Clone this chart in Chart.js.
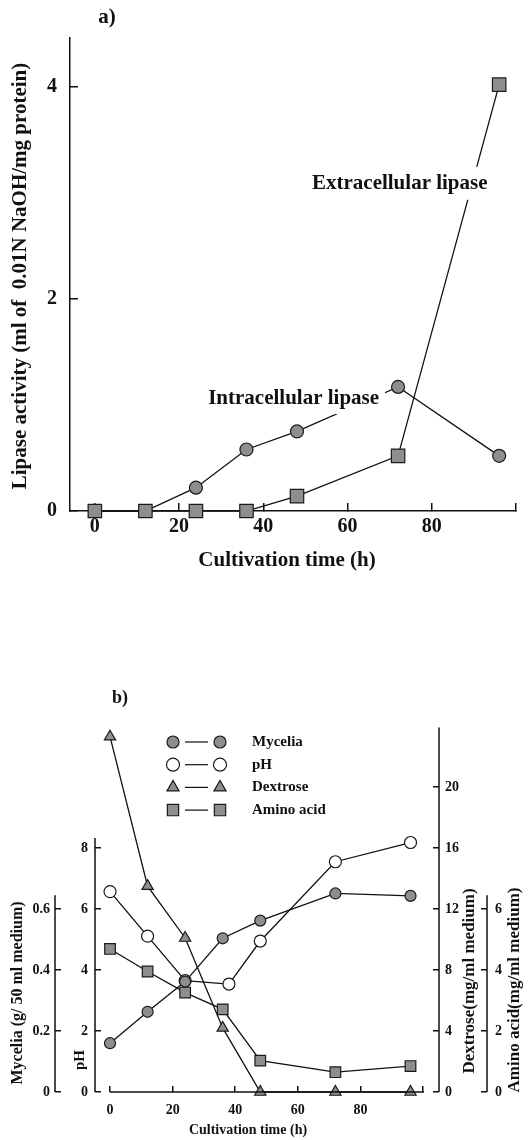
<!DOCTYPE html>
<html>
<head>
<meta charset="utf-8">
<script src="https://cdn.jsdelivr.net/npm/chart.js@4.4.1/dist/chart.umd.min.js"></script>
<style>
  html, body { margin: 0; padding: 0; background: #fff; }
  #wrap { position: relative; width: 528px; height: 1140px; }
  canvas { position: absolute; left: 0; }
  #chartA { top: 0; }
  #chartB { top: 580px; }
</style>
</head>
<body>
<div id="wrap">
  <canvas id="chartA" width="528" height="580"></canvas>
  <canvas id="chartB" width="528" height="560"></canvas>
</div>
<script>
// a) lipase activity vs time
const hoursA = [0, 12, 24, 36, 48, 72, 96];
const intracellular = [0, 0, 0.22, 0.58, 0.75, 1.17, 0.52];
const extracellular = [0, 0, 0, 0, 0.14, 0.52, 4.02];
const lipaseTicks = [0, 2, 4];
const timeTicks = [0, 20, 40, 60, 80, 100];

// b) culture course
const hoursB = [0, 12, 24, 36, 48, 72, 96];
const hoursPH = [0, 12, 24, 38, 48, 72, 96];
const mycelia = [0.16, 0.263, 0.362, 0.504, 0.562, 0.651, 0.643];
const pH = [6.57, 5.11, 3.65, 3.54, 4.95, 7.55, 8.18];
const dextrose = [23.3, 13.5, 10.1, 4.2, 0, 0, 0];
const aminoAcid = [4.69, 3.95, 3.26, 2.71, 1.03, 0.65, 0.85];
const myceliaTicks = [0, 0.2, 0.4, 0.6];
const pHTicks = [0, 2, 4, 6, 8];
const dextroseTicks = [0, 4, 8, 12, 16, 20];
const aminoTicks = [0, 2, 4, 6];

const INK = '#111';
const GREY = '#8e8e8e';
const serif = 'bold {s}px "Liberation Serif", "DejaVu Serif", serif';
const font = s => serif.replace('{s}', s);

function pts(xs, ys) { return xs.map((x, i) => ({ x: x, y: ys[i] })); }
function fixTicks(list) { return s => { s.ticks = list.map(v => ({ value: v })); }; }

function vText(ctx, text, x, y, size) {
  ctx.save();
  ctx.translate(x, y);
  ctx.rotate(-Math.PI / 2);
  ctx.font = font(size);
  ctx.fillStyle = INK;
  ctx.textAlign = 'center';
  ctx.textBaseline = 'middle';
  ctx.fillText(text, 0, 0);
  ctx.restore();
}
function hText(ctx, text, x, y, size, align) {
  ctx.font = font(size);
  ctx.fillStyle = INK;
  ctx.textAlign = align || 'center';
  ctx.textBaseline = 'middle';
  ctx.fillText(text, x, y);
}
// label sitting on a line, with a white box that breaks the line
function boxedText(ctx, text, x, y, size, padX, padY) {
  ctx.font = font(size);
  const w = ctx.measureText(text).width;
  ctx.fillStyle = '#fff';
  ctx.fillRect(x - w / 2 - padX, y - size / 2 - padY, w + 2 * padX, size + 2 * padY);
  hText(ctx, text, x, y, size);
}

const lineSet = (data, style, radius, fill, axis) => ({
  data: data,
  yAxisID: axis,
  borderColor: INK,
  borderWidth: 1.3,
  pointStyle: style,
  pointRadius: radius,
  pointHoverRadius: radius,
  pointBackgroundColor: fill,
  pointBorderColor: '#1a1a1a',
  pointBorderWidth: 1.2,
  tension: 0,
  clip: false
});

// ---------- chart a ----------
const labelsA = {
  id: 'labelsA',
  afterDatasetsDraw(chart) {
    const ctx = chart.ctx, x = chart.scales.x, y = chart.scales.y;
    boxedText(ctx, 'Extracellular lipase', x.getPixelForValue(72.4), y.getPixelForValue(3.09), 21, 3, 6);
    boxedText(ctx, 'Intracellular lipase', x.getPixelForValue(47.2), y.getPixelForValue(1.06), 21, 6, 5);
  },
  afterDraw(chart) {
    const ctx = chart.ctx;
    vText(ctx, 'Lipase activity (ml of  0.01N NaOH/mg protein)', 21, 276, 21);
    hText(ctx, 'Cultivation time (h)', 287, 561, 21);
    hText(ctx, 'a)', 107, 18, 21);
  }
};

const tickFontA = { family: 'Liberation Serif', weight: 'bold', size: 20 };

new Chart(document.getElementById('chartA'), {
  type: 'line',
  data: {
    datasets: [
      lineSet(pts(hoursA, extracellular), 'rect', 9.5, GREY, 'y'),
      lineSet(pts(hoursA, intracellular), 'circle', 6.5, GREY, 'y')
    ]
  },
  options: {
    responsive: false,
    animation: false,
    devicePixelRatio: 1,
    layout: { padding: { top: 38, right: 10, left: 0, bottom: 0 } },
    plugins: { legend: { display: false }, tooltip: { enabled: false } },
    scales: {
      x: {
        type: 'linear', min: -5.9, max: 100,
        afterBuildTicks: fixTicks(timeTicks),
        afterFit: s => { s.height = 69; },
        border: { color: INK, width: 1.5 },
        grid: { drawOnChartArea: false, tickLength: -8, color: INK, lineWidth: 1.5 },
        ticks: { color: INK, font: tickFontA, padding: 12,
                 maxRotation: 0, callback: v => v === 100 ? '' : String(v) }
      },
      y: {
        min: 0, max: 4.46,
        afterBuildTicks: fixTicks(lipaseTicks),
        afterFit: s => { s.width = 70; },
        border: { color: INK, width: 1.5 },
        grid: { drawOnChartArea: false, tickLength: -8, color: INK, lineWidth: 1.5 },
        ticks: { color: INK, font: tickFontA, padding: 21 }
      }
    }
  },
  plugins: [labelsA]
});

// ---------- chart b ----------
const legendRows = [
  { text: 'Mycelia', style: 'circle', r: 6, fill: GREY },
  { text: 'pH', style: 'circle', r: 6.5, fill: '#fff' },
  { text: 'Dextrose', style: 'triangle', r: 7, fill: GREY },
  { text: 'Amino acid', style: 'rect', r: 8, fill: GREY }
];

const decorB = {
  id: 'decorB',
  afterDraw(chart) {
    const ctx = chart.ctx, s = chart.scales;
    const xs = s.x, yM = s.yMyc, yP = s.yPH, yD = s.yDex, yA = s.yAmino;
    ctx.save();
    ctx.strokeStyle = INK;
    ctx.lineWidth = 1.5;
    ctx.beginPath();
    // x axis 0..100 h
    ctx.moveTo(xs.getPixelForValue(0), chart.chartArea.bottom);
    ctx.lineTo(xs.getPixelForValue(100) + 1, chart.chartArea.bottom);
    // partial y axis lines
    ctx.moveTo(yM.right, yM.getPixelForValue(0));
    ctx.lineTo(yM.right, yM.getPixelForValue(0.645));
    ctx.moveTo(yP.right, yP.getPixelForValue(0));
    ctx.lineTo(yP.right, yP.getPixelForValue(8.33));
    ctx.moveTo(yD.left, yD.getPixelForValue(0));
    ctx.lineTo(yD.left, yD.getPixelForValue(23.9));
    ctx.moveTo(yA.left, yA.getPixelForValue(0));
    ctx.lineTo(yA.left, yA.getPixelForValue(6.45));
    ctx.stroke();

    // legend
    legendRows.forEach((row, i) => {
      const y = 162 + i * 22.7;
      ctx.strokeStyle = INK;
      ctx.lineWidth = 1.2;
      ctx.beginPath();
      ctx.moveTo(185, y); ctx.lineTo(208, y);
      ctx.stroke();
      [173, 220].forEach(px => {
        ctx.fillStyle = row.fill;
        ctx.strokeStyle = '#1a1a1a';
        ctx.lineWidth = 1.2;
        Chart.helpers.drawPoint(ctx, { pointStyle: row.style, radius: row.r, rotation: 0, borderWidth: 1.2 }, px, y);
      });
      hText(ctx, row.text, 252, y, 15, 'left');
    });
    ctx.restore();

    vText(ctx, 'Mycelia (g/ 50 ml medium)', 18, 413, 16);
    vText(ctx, 'pH', 80, 480, 15);
    vText(ctx, 'Dextrose(mg/ml medium)', 470, 401, 17);
    vText(ctx, 'Amino acid(mg/ml medium)', 515, 410, 17);
    hText(ctx, 'Cultivation time (h)', 248, 550, 14);
    hText(ctx, 'b)', 120, 118, 18);
  }
};

const tickFont = { family: 'Liberation Serif', weight: 'bold', size: 14 };
const yAxis = (pos, weight, max, list, width, pad, fmt) => ({
  position: pos, weight: weight, min: 0, max: max,
  afterBuildTicks: fixTicks(list),
  afterFit: s => { s.width = width; },
  border: { display: false },
  grid: { drawOnChartArea: false, tickLength: -6, color: INK, lineWidth: 1.5 },
  ticks: { color: INK, font: tickFont, padding: pad, callback: fmt || (v => String(v)) }
});

new Chart(document.getElementById('chartB'), {
  type: 'line',
  data: {
    datasets: [
      lineSet(pts(hoursB, mycelia), 'circle', 5.5, GREY, 'yMyc'),
      lineSet(pts(hoursB, aminoAcid), 'rect', 7.5, GREY, 'yAmino'),
      lineSet(pts(hoursPH, pH), 'circle', 6, '#fff', 'yPH'),
      lineSet(pts(hoursB, dextrose), 'triangle', 6.5, GREY, 'yDex')
    ]
  },
  options: {
    responsive: false,
    animation: false,
    devicePixelRatio: 1,
    layout: { padding: { top: 146, right: 0, left: 0, bottom: 0 } },
    plugins: { legend: { display: false }, tooltip: { enabled: false } },
    scales: {
      x: {
        type: 'linear', min: -4.8, max: 105.1,
        afterBuildTicks: fixTicks(timeTicks),
        afterFit: s => { s.height = 48; },
        border: { display: false },
        grid: { drawOnChartArea: false, tickLength: -6, color: INK, lineWidth: 1.5 },
        ticks: { color: INK, font: tickFont, padding: 16, maxRotation: 0,
                 callback: v => v === 100 ? '' : String(v) }
      },
      yMyc: yAxis('left', 1, 1.2, myceliaTicks, 55, 11, v => v === 0 ? '0' : v.toFixed(1)),
      yPH: yAxis('left', 0, 12, pHTicks, 40, 13),
      yDex: yAxis('right', 0, 24, dextroseTicks, 48, 12),
      yAmino: yAxis('right', 1, 12, aminoTicks, 41, 14)
    }
  },
  plugins: [decorB]
});
</script>
</body>
</html>
